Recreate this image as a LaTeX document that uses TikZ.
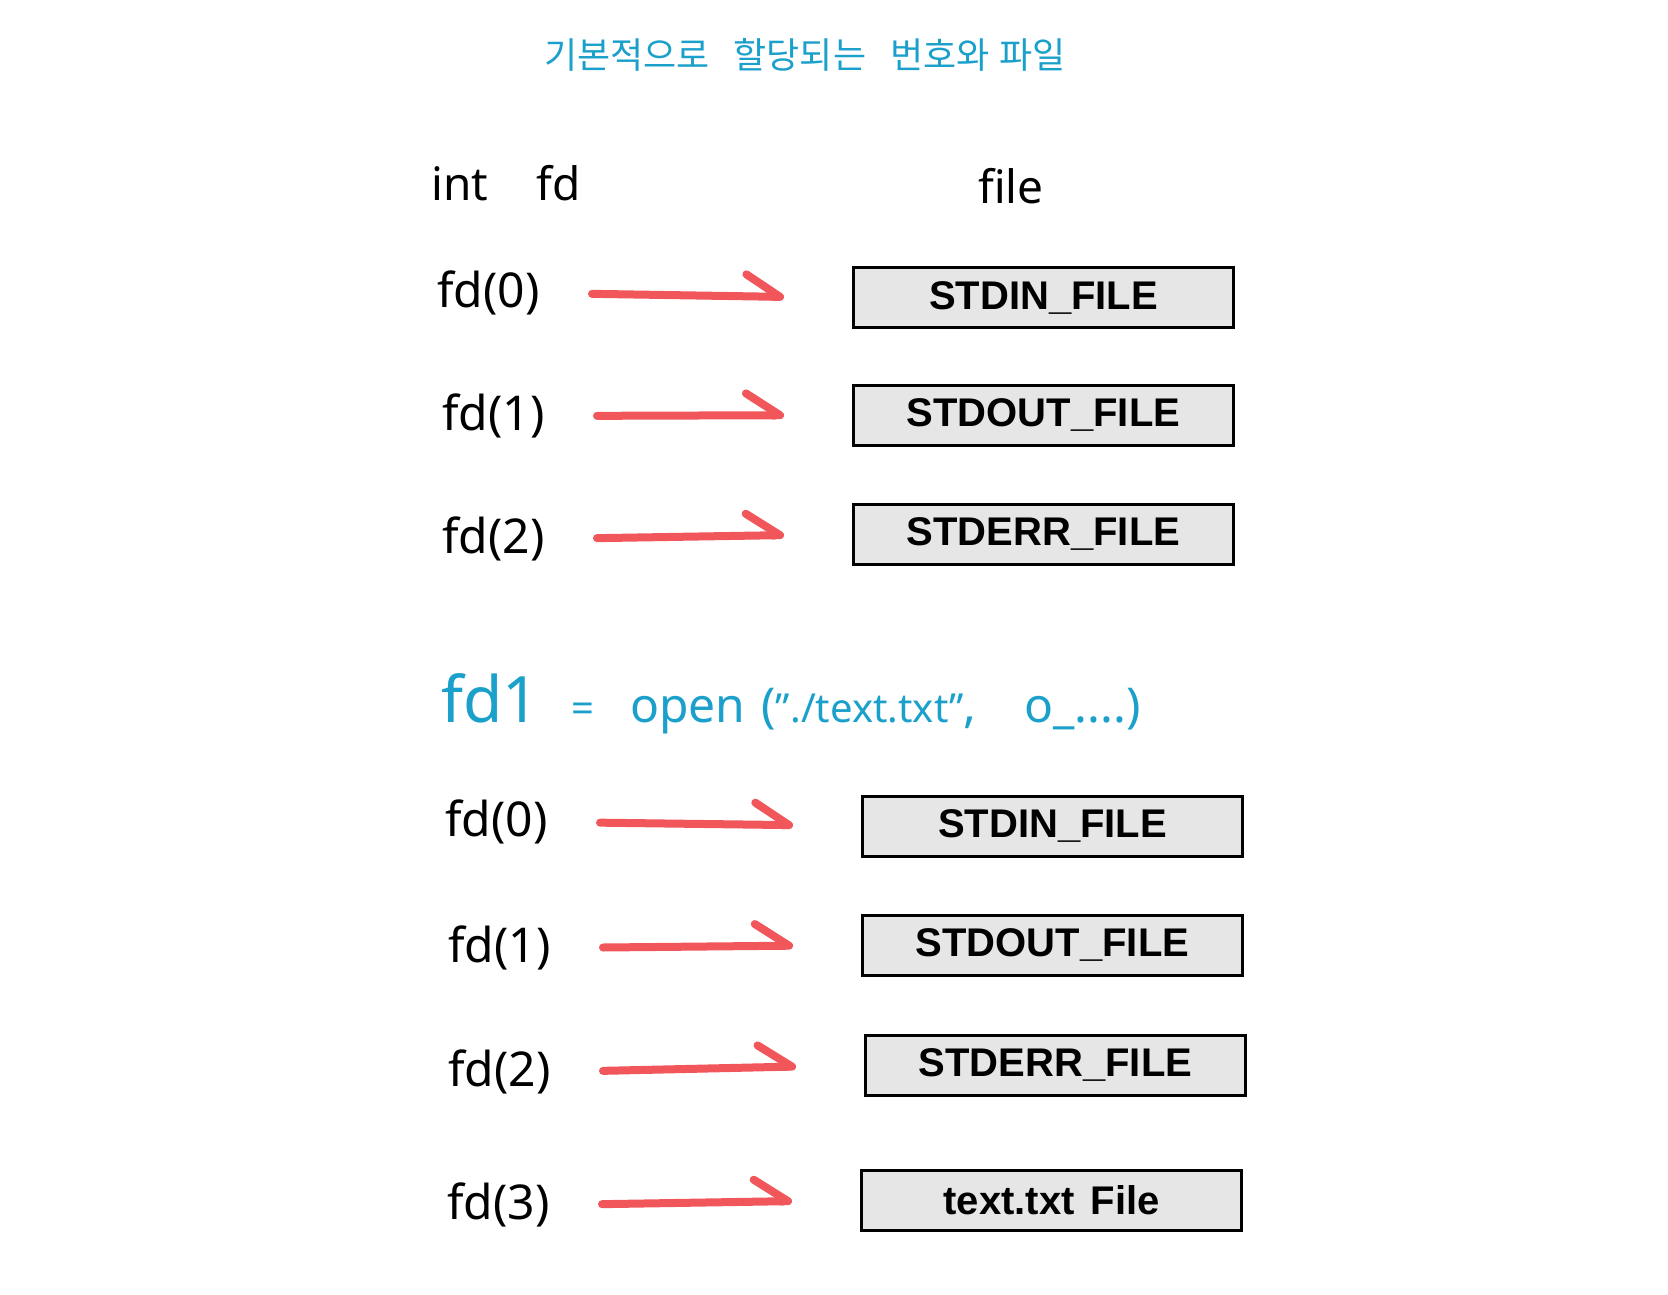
\documentclass[tikz,border=0pt]{standalone}
\usepackage{fontspec}
\setmainfont{Noto Sans}
\newfontfamily\krfont{Noto Sans CJK KR}
\newfontfamily\boxfont{Liberation Sans}
\usepackage{tikz}
\usetikzlibrary{arrows.meta}
\usepackage{xcolor}
\definecolor{titleblue}{RGB}{26,160,202}
\definecolor{arrowred}{RGB}{240,86,90}
\definecolor{boxgray}{RGB}{230,230,230}

\begin{document}
\begin{tikzpicture}[
                x=0.5pt, y=-0.5pt,
                fdlabel/.style={anchor=east, inner sep=0pt, font=\fontsize{24}{28}\selectfont},
                filebox/.style={rectangle, draw=black, fill=boxgray, line width=1.5pt,
                    anchor=west, minimum width=190pt, minimum height=30pt,
                    inner sep=0pt, font=\boxfont\fontsize{20}{24}\selectfont\bfseries},
                header/.style={inner sep=0pt, font=\fontsize{23}{27}\selectfont},
                fdarrow/.style={draw=arrowred, line width=4pt, line cap=round,
                    shorten <=26pt, shorten >=34pt,
                    -{Straight Barb[left, round, length=17pt, width=22pt]}},
            ]
            \useasboundingbox (0,0) rectangle (1668,1294);
            
            % Titles
            \node[inner sep=0pt, text=titleblue, font=\krfont\fontsize{18}{22}\selectfont] (title) at (805,55)
                {기본적으로\hspace{12pt}할당되는\hspace{12pt}번호와\hspace{5pt}파일};
            \node[header] (intfd) at (506,183) {int\hspace{24pt}fd};
            \node[header] (filehead) at (1011,186) {file};
            
            % Default descriptors
            \node[fdlabel] (fdA0) at (540,293) {fd(0)};
            \node[filebox] (boxA0) at (852,298) {STDIN\_FILE};
            \node[fdlabel] (fdA1) at (545,416) {fd(1)};
            \node[filebox] (boxA1) at (852,415) {STDOUT\_FILE};
            \node[fdlabel] (fdA2) at (545,539) {fd(2)};
            \node[filebox] (boxA2) at (852,534) {STDERR\_FILE};
            
            % open call
            \node[anchor=west, inner sep=0pt, text=titleblue, font=\fontsize{24}{28}\selectfont] (opencall) at (441,704)
                {{\fontsize{32}{36}\selectfont fd1}\hspace{16pt}{\fontsize{20}{24}\selectfont =}\hspace{18pt}open\hspace{8pt}({\fontsize{20}{24}\selectfont"./text.txt"},\hspace{24pt}o\_....)};
            
            % After open
            \node[fdlabel] (fdB0) at (548,822) {fd(0)};
            \node[filebox] (boxB0) at (861,826) {STDIN\_FILE};
            \node[fdlabel] (fdB1) at (551,948) {fd(1)};
            \node[filebox] (boxB1) at (861,945) {STDOUT\_FILE};
            \node[fdlabel] (fdB2) at (551,1072) {fd(2)};
            \node[filebox] (boxB2) at (864,1065) {STDERR\_FILE};
            \node[fdlabel] (fdB3) at (550,1205) {fd(3)};
            \node[filebox] (boxB3) at (860,1200) {text.txt\hspace{8pt}File};
            
            % Arrows
            \draw[fdarrow] (fdA0.east) -- (boxA0.west);
            \draw[fdarrow] (fdA1.east) -- (boxA1.west);
            \draw[fdarrow] (fdA2.east) -- (boxA2.west);
            \draw[fdarrow] (fdB0.east) -- (boxB0.west);
            \draw[fdarrow] (fdB1.east) -- (boxB1.west);
            \draw[fdarrow] (fdB2.east) -- (boxB2.west);
            \draw[fdarrow] (fdB3.east) -- (boxB3.west);
            
            \end{tikzpicture}
\end{document}
